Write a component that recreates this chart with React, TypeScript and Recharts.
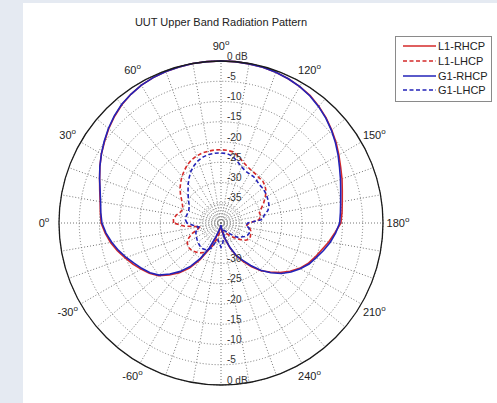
import {
  RadarChart,
  Radar,
  PolarGrid,
  PolarAngleAxis,
  PolarRadiusAxis,
  Legend,
} from "recharts";

// azimuth in degrees, 0 on the left, running clockwise (270 = straight down)
const angles = [
  0, 5, 10, 15, 20, 25, 30, 35, 40, 45, 50, 55, 60, 65, 70, 75, 80, 85,
  90, 95, 100, 105, 110, 115, 120, 125, 130, 135, 140, 145, 150, 155, 160, 165, 170, 175,
  180, 185, 190, 195, 200, 205, 210, 215, 220, 225, 230, 235, 240, 245, 250, 255, 260, 265,
  270, 275, 280, 285, 290, 295, 300, 305, 310, 315, 320, 325, 330, 335, 340, 345, 350, 355,
];

// gain in dB
const l1Rhcp = [
  -10.4, -10.1, -9.7, -9.0, -8.1, -7.0, -5.9, -4.9, -3.8, -2.8, -1.9, -1.2, -0.7, -0.4, -0.2, -0.1, 0, 0,
  0, 0, -0.1, -0.2, -0.4, -0.7, -1.1, -1.6, -2.4, -3.3, -4.3, -5.3, -6.4, -7.4, -8.2, -9.0, -9.6, -10.0,
  -10.4, -11.8, -13.0, -14.3, -15.3, -16.3, -17.6, -19.2, -21.0, -22.9, -24.6, -26.8, -29.0, -31.0, -33.4, -35.6, -37.4, -38.6,
  -39.3, -39.0, -38.6, -37.6, -35.8, -32.6, -29.4, -26.4, -24.0, -21.9, -19.8, -18.4, -17.2, -16.0, -14.8, -13.5, -12.3, -11.3,
];

const l1Lhcp = [
  -28.3, -28.2, -28.8, -29.6, -30.0, -29.5, -28.8, -27.8, -26.8, -25.9, -25.0, -24.2, -23.4, -22.8, -22.4, -22.1, -22.0, -21.9,
  -21.9, -22.0, -22.2, -23.0, -24.0, -24.6, -25.0, -25.2, -25.4, -25.4, -25.8, -26.4, -27.4, -28.4, -29.4, -30.2, -30.0, -30.6,
  -33.0, -33.6, -32.8, -32.4, -32.2, -32.0, -32.0, -32.6, -33.6, -34.5, -35.5, -36.2, -36.8, -37.2, -37.5, -37.6, -37.8, -38.0,
  -38.2, -38.0, -37.2, -35.8, -34.0, -32.8, -31.6, -31.0, -30.6, -30.2, -30.0, -30.0, -30.4, -31.2, -32.4, -34.0, -34.8, -31.0,
];

const g1Rhcp = [
  -10.6, -10.2, -9.8, -9.1, -8.1, -7.0, -5.9, -4.8, -3.7, -2.7, -1.8, -1.2, -0.7, -0.4, -0.2, -0.1, 0, 0,
  0, 0, -0.1, -0.2, -0.4, -0.7, -1.1, -1.7, -2.5, -3.4, -4.4, -5.5, -6.6, -7.7, -8.6, -9.4, -10.0, -10.4,
  -10.7, -11.6, -12.6, -13.8, -15.0, -16.0, -17.4, -18.9, -20.6, -22.6, -24.8, -27.2, -29.4, -31.2, -33.6, -35.8, -37.6, -38.8,
  -39.5, -39.2, -38.8, -38.0, -36.4, -33.2, -30.0, -27.0, -24.4, -22.2, -20.0, -18.6, -17.5, -16.4, -15.1, -13.8, -12.6, -11.5,
];

const g1Lhcp = [
  -31.6, -31.2, -31.2, -31.4, -31.5, -31.3, -30.9, -30.2, -29.4, -28.5, -27.4, -26.3, -25.2, -24.3, -23.6, -23.1, -22.8, -22.7,
  -22.7, -22.8, -23.3, -24.3, -25.2, -25.8, -26.0, -26.0, -26.3, -26.6, -26.6, -26.7, -26.9, -27.1, -27.4, -28.0, -29.2, -29.6,
  -33.4, -33.8, -33.0, -32.8, -32.6, -32.8, -33.3, -34.0, -34.4, -35.5, -36.5, -37.0, -37.5, -38.0, -38.0, -37.4, -36.4, -35.0,
  -34.0, -35.0, -35.8, -35.4, -33.6, -32.8, -32.4, -32.2, -32.2, -32.4, -32.6, -32.8, -33.0, -33.2, -33.4, -33.8, -34.4, -33.2,
];

const data = angles.map((angle, i) => ({
  angle,
  l1r: l1Rhcp[i],
  l1l: l1Lhcp[i],
  g1r: g1Rhcp[i],
  g1l: g1Lhcp[i],
}));

const series = [
  { key: "l1r", name: "L1-RHCP", color: "#d42a2a", dash: undefined },
  { key: "l1l", name: "L1-LHCP", color: "#d42a2a", dash: "4 2.5" },
  { key: "g1r", name: "G1-RHCP", color: "#2323b8", dash: undefined },
  { key: "g1l", name: "G1-LHCP", color: "#2323b8", dash: "4 2.5" },
];

const FONT = "Arial, 'Liberation Sans', sans-serif";
const CX = 221;
const CY = 223;
const R = 162;

const spokes = Array.from({ length: 36 }, (_, i) => i * 10);
const centerRings = [3, 6, 9, 12, 15, 18];

function AngleTick(props: any) {
  const { x, y, payload } = props;
  const v = Number(payload.value);
  if (v % 30 !== 0 || v === 270) return null;
  const label = v > 270 ? v - 360 : v;
  return (
    <text
      x={x}
      y={y + 4}
      textAnchor="middle"
      fontSize={11}
      fontFamily={FONT}
      fill="#222"
    >
      {label}
      <tspan dy={-5} fontSize={8}>
        o
      </tspan>
    </text>
  );
}

function RadiusTick(props: any) {
  const { x, y, payload } = props;
  const v = Number(payload.value);
  if (v <= -40) return null;
  const label = v === 0 ? "0 dB" : String(v);
  const below = 2 * CY - y;
  return (
    <g>
      <text x={x + 6} y={y - 1.5} fontSize={10} fontFamily={FONT} fill="#333">
        {label}
      </text>
      {v > -35 && (
        <text x={x + 6} y={below - 1.5} fontSize={10} fontFamily={FONT} fill="#333">
          {label}
        </text>
      )}
    </g>
  );
}

function LegendBox() {
  return (
    <div
      style={{
        border: "1px solid #8a8a8a",
        background: "#fff",
        width: 95,
        padding: "2px 0 3px 0",
        fontFamily: FONT,
        fontSize: 11,
        color: "#222",
      }}
    >
      {series.map((s) => (
        <div key={s.key} style={{ display: "flex", alignItems: "center", height: 14.7 }}>
          <svg width={42} height={10}>
            <line
              x1={7}
              x2={40}
              y1={5}
              y2={5}
              stroke={s.color}
              strokeWidth={1.6}
              strokeDasharray={s.dash}
            />
          </svg>
          <span>{s.name}</span>
        </div>
      ))}
    </div>
  );
}

export default function App() {
  return (
    <div
      style={{
        position: "fixed",
        left: 0,
        top: 0,
        width: 497,
        height: 403,
        background: "#e5eaf2",
        overflow: "hidden",
      }}
    >
      <div
        style={{
          position: "absolute",
          left: 23,
          top: 3,
          right: 0,
          bottom: 0,
          background: "#fff",
        }}
      />
      <div
        style={{
          position: "absolute",
          left: CX - 150,
          top: 16,
          width: 300,
          textAlign: "center",
          fontFamily: FONT,
          fontSize: 11,
          color: "#222",
        }}
      >
        UUT Upper Band Radiation Pattern
      </div>
      <div style={{ position: "absolute", left: 0, top: 0 }}>
        <RadarChart
          width={497}
          height={403}
          data={data}
          cx={CX}
          cy={CY}
          outerRadius={R}
          startAngle={180}
          endAngle={-180}
        >
          <PolarGrid
            gridType="circle"
            polarAngles={spokes}
            stroke="#777"
            strokeDasharray="1 2"
          />
          <PolarGrid
            gridType="circle"
            polarAngles={[]}
            polarRadius={centerRings}
            radialLines={false}
            stroke="#999"
            strokeDasharray="1 1.5"
          />
          <PolarAngleAxis
            dataKey="angle"
            tick={AngleTick}
            tickLine={false}
            tickSize={15}
            axisLineType="circle"
            axisLine={{ stroke: "#1a1a1a", strokeWidth: 1.3 }}
          />
          <PolarRadiusAxis
            angle={90}
            domain={[-40, 0]}
            tickCount={9}
            axisLine={false}
            tickLine={false}
            tick={RadiusTick}
          />
          {series.map((s) => (
            <Radar
              key={s.key}
              dataKey={s.key}
              name={s.name}
              stroke={s.color}
              strokeWidth={1.6}
              strokeDasharray={s.dash}
              fill="none"
              fillOpacity={0}
              dot={false}
              isAnimationActive={false}
            />
          ))}
          <Legend
            content={<LegendBox />}
            wrapperStyle={{ position: "absolute", left: 395, top: 36, width: 97 }}
          />
        </RadarChart>
      </div>
    </div>
  );
}
